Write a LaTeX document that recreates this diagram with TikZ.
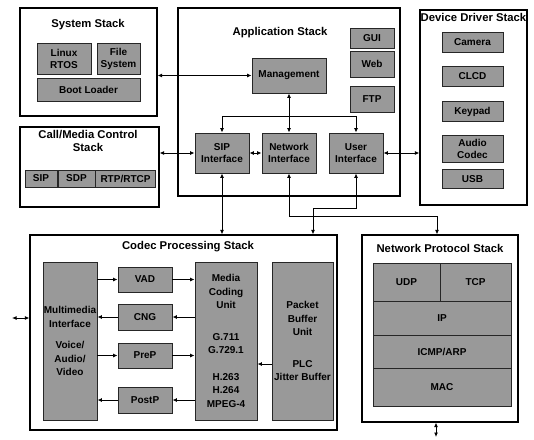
\documentclass[tikz,border=0pt]{standalone}
\usepackage{fontspec}
\setmainfont{Liberation Sans}
\usetikzlibrary{arrows.meta}
\begin{document}
\begin{tikzpicture}[x=1pt,y=-1pt,
  stack/.style={draw=black,line width=1.1pt,fill=white,inner sep=0pt},
  title/.style={font=\fontsize{11.3}{12.5}\selectfont\bfseries,inner sep=0pt,align=center},
  gbox/.style={draw=black!85,line width=0.9pt,fill=black!40,inner sep=0pt,align=center,
    font=\fontsize{10}{12}\selectfont\bfseries},
  tall/.style={font=\fontsize{10}{13.5}\selectfont\bfseries},
  conn/.style={line width=0.9pt,{Latex[length=4.5pt,width=4pt]}-{Latex[length=4.5pt,width=4pt]}},
  one/.style={line width=0.9pt,-{Latex[length=4.5pt,width=4pt]}}]
\useasboundingbox (0,0) rectangle (534,439);
% stacks
\node[stack,minimum width=137,minimum height=108] (sys) at (88.5,62) {};
\node[stack,minimum width=222,minimum height=188] (app) at (289,102) {};
\node[stack,minimum width=107,minimum height=195] (dev) at (473.5,107.5) {};
\node[stack,minimum width=139,minimum height=80] (call) at (89.5,167) {};
\node[stack,minimum width=307,minimum height=195] (codec) at (183.5,332.5) {};
\node[stack,minimum width=156,minimum height=187] (nps) at (440,328.5) {};
% titles
\node[title] (tsys) at (88,25) {System Stack};
\node[title] (tapp) at (280,33) {Application Stack};
\node[title] (tdev) at (473.5,17) {Device Driver Stack};
\node[title] (tcall) at (88,141) {Call/Media Control\\Stack};
\node[title] (tcodec) at (188,247) {Codec Processing Stack};
\node[title] (tnps) at (440,248) {Network Protocol Stack};
% system stack
\node[gbox,minimum width=54,minimum height=31] (linux) at (64,58.5) {Linux\\RTOS};
\node[gbox,minimum width=43,minimum height=31] (file) at (118.5,58.5) {File\\System};
\node[gbox,minimum width=103,minimum height=23] (boot) at (88.5,89.5) {Boot Loader};
% application stack
\node[gbox,minimum width=44,minimum height=20] (gui) at (372,38) {GUI};
\node[gbox,minimum width=44,minimum height=26] (web) at (372,64) {Web};
\node[gbox,minimum width=44,minimum height=26] (ftp) at (372,99) {FTP};
\node[gbox,minimum width=74,minimum height=35] (mgmt) at (289,75.5) {Management};
\node[gbox,minimum width=54,minimum height=40] (sip) at (222,153) {SIP\\Interface};
\node[gbox,minimum width=54,minimum height=40] (net) at (289,153) {Network\\Interface};
\node[gbox,minimum width=54,minimum height=40] (user) at (356,153) {User\\Interface};
% device driver stack
\node[gbox,minimum width=61,minimum height=20] (camera) at (472.5,42) {Camera};
\node[gbox,minimum width=61,minimum height=20] (clcd) at (472.5,76.5) {CLCD};
\node[gbox,minimum width=61,minimum height=20] (keypad) at (472.5,111.5) {Keypad};
\node[gbox,minimum width=61,minimum height=27] (audio) at (472.5,148.5) {Audio\\Codec};
\node[gbox,minimum width=61,minimum height=19] (usb) at (472.5,179) {USB};
% call/media control stack
\node[gbox,minimum width=32,minimum height=17] (sipc) at (41,178.5) {SIP};
\node[gbox,minimum width=37,minimum height=17] (sdp) at (76.5,178.5) {SDP};
\node[gbox,minimum width=60,minimum height=17] (rtp) at (125.5,178.5) {RTP/RTCP};
% codec processing stack
\node[gbox,tall,minimum width=54,minimum height=158] (mm) at (70,341) {Multimedia\\Interface\\[8pt]Voice/\\Audio/\\Video};
\node[gbox,minimum width=54,minimum height=25] (vad) at (145,279.5) {VAD};
\node[gbox,minimum width=54,minimum height=26] (cng) at (145,317) {CNG};
\node[gbox,minimum width=54,minimum height=25] (prep) at (145,355.5) {PreP};
\node[gbox,minimum width=54,minimum height=26] (postp) at (145,400) {PostP};
\node[gbox,tall,minimum width=62,minimum height=158] (mcu) at (226,341) {Media\\Coding\\Unit\\[18pt]G.711\\G.729.1\\[13pt]H.263\\H.264\\MPEG-4};
\node[gbox,tall,minimum width=61,minimum height=158] (pbu) at (302.5,341) {Packet\\Buffer\\Unit\\[18pt]PLC\\Jitter Buffer};
% network protocol stack
\node[gbox,minimum width=67,minimum height=38] (udp) at (406.5,282) {UDP};
\node[gbox,minimum width=71,minimum height=38] (tcp) at (475.5,282) {TCP};
\node[gbox,minimum width=138,minimum height=34] (ip) at (442,318) {IP};
\node[gbox,minimum width=138,minimum height=33] (icmp) at (442,351.5) {ICMP/ARP};
\node[gbox,minimum width=138,minimum height=38] (mac) at (442,387) {MAC};
% connectors
\draw[conn] (mgmt.west -| sys.east) -- (mgmt.west);
\draw[conn] (sip.west -| call.east) -- (sip.west);
\draw[conn] (sip.east) -- (net.west);
\draw[conn] (user.east) -- (user.east -| dev.west);
\draw[conn] (mgmt.south) -- (net.north);
\coordinate (br) at (289,116);
\draw[one] (br) -| (sip.north);
\draw[one] (br) -| (user.north);
\draw[conn] (sip.south) -- (sip.south |- codec.north);
\coordinate (nk) at (437,216);
\draw[conn] (net.south) |- (nk) -- (nk |- nps.north);
\coordinate (uk) at (313,208);
\draw[conn] (user.south) |- (uk) -- (uk |- codec.north);
\draw[one] (mm.east |- vad) -- (vad.west);
\draw[one] (vad.east) -- (vad -| mcu.west);
\draw[one] (cng -| mcu.west) -- (cng.east);
\draw[one] (cng.west) -- (cng -| mm.east);
\draw[one] (mm.east |- prep) -- (prep.west);
\draw[one] (prep.east) -- (prep -| mcu.west);
\draw[one] (postp -| mcu.west) -- (postp.east);
\draw[one] (postp.west) -- (postp -| mm.east);
\coordinate (py) at (0,364);
\draw[one] (pbu.west |- py) -- (mcu.east |- py);
\coordinate (ext) at (12,318);
\draw[conn] (ext) -- (ext -| codec.west);
\coordinate (nb) at (436,437);
\draw[conn] (nps.south -| nb) -- (nb);
\end{tikzpicture}
\end{document}
